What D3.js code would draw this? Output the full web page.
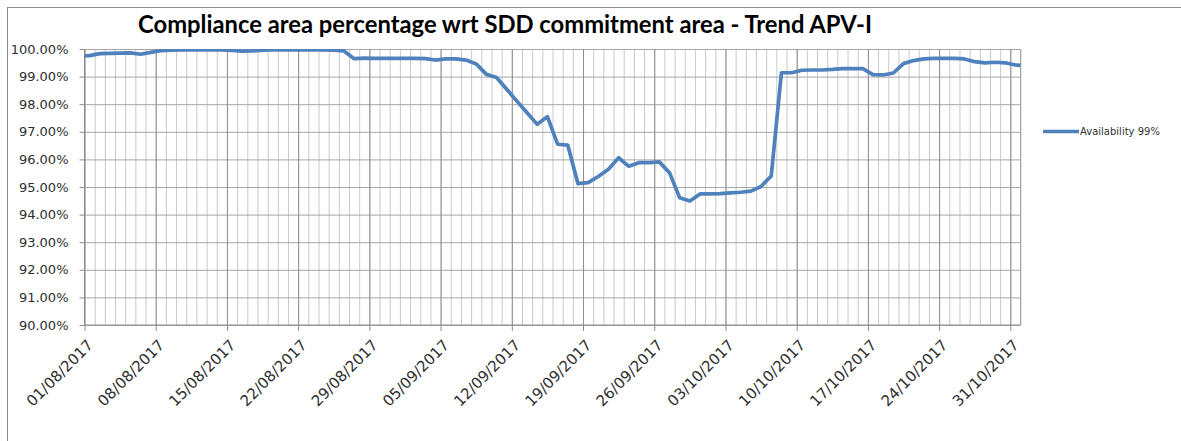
<!DOCTYPE html>
<html>
<head>
<meta charset="utf-8">
<script src="https://cdn.jsdelivr.net/npm/d3@7"></script>
<style>
  html, body { margin: 0; padding: 0; background: #fff; }
  svg { display: block; }
</style>
</head>
<body>
<div id="chart"></div>
<script>
// readings are taken once a day around noon; the axis runs 01/08 -> 01/11
const days = [
  "31/07/2017",
  "01/08/2017", "02/08/2017", "03/08/2017", "04/08/2017", "05/08/2017", "06/08/2017", "07/08/2017",
  "08/08/2017", "09/08/2017", "10/08/2017", "11/08/2017", "12/08/2017", "13/08/2017", "14/08/2017",
  "15/08/2017", "16/08/2017", "17/08/2017", "18/08/2017", "19/08/2017", "20/08/2017", "21/08/2017",
  "22/08/2017", "23/08/2017", "24/08/2017", "25/08/2017", "26/08/2017", "27/08/2017", "28/08/2017",
  "29/08/2017", "30/08/2017", "31/08/2017", "01/09/2017", "02/09/2017", "03/09/2017", "04/09/2017",
  "05/09/2017", "06/09/2017", "07/09/2017", "08/09/2017", "09/09/2017", "10/09/2017", "11/09/2017",
  "12/09/2017", "13/09/2017", "14/09/2017", "15/09/2017", "16/09/2017", "17/09/2017", "18/09/2017",
  "19/09/2017", "20/09/2017", "21/09/2017", "22/09/2017", "23/09/2017", "24/09/2017", "25/09/2017",
  "26/09/2017", "27/09/2017", "28/09/2017", "29/09/2017", "30/09/2017", "01/10/2017", "02/10/2017",
  "03/10/2017", "04/10/2017", "05/10/2017", "06/10/2017", "07/10/2017", "08/10/2017", "09/10/2017",
  "10/10/2017", "11/10/2017", "12/10/2017", "13/10/2017", "14/10/2017", "15/10/2017", "16/10/2017",
  "17/10/2017", "18/10/2017", "19/10/2017", "20/10/2017", "21/10/2017", "22/10/2017", "23/10/2017",
  "24/10/2017", "25/10/2017", "26/10/2017", "27/10/2017", "28/10/2017", "29/10/2017", "30/10/2017",
  "31/10/2017", "01/11/2017"
];

const availability = [
  99.74,
  99.76, 99.83, 99.84, 99.85, 99.86, 99.81, 99.88,
  99.94, 99.96, 99.97, 99.97, 99.97, 99.97, 99.97,
  99.95, 99.92, 99.93, 99.96, 99.97, 99.97, 99.97,
  99.97, 99.97, 99.97, 99.96, 99.93, 99.65, 99.67,
  99.66, 99.66, 99.66, 99.66, 99.66, 99.65, 99.60,
  99.64, 99.64, 99.60, 99.46, 99.08, 98.97, 98.54,
  98.11, 97.69, 97.27, 97.55, 96.55, 96.52, 95.12,
  95.16, 95.38, 95.64, 96.06, 95.75, 95.88, 95.88,
  95.91, 95.52, 94.61, 94.49, 94.75, 94.75, 94.76,
  94.79, 94.81, 94.85, 95.02, 95.40, 99.14, 99.14,
  99.23, 99.24, 99.24, 99.26, 99.29, 99.29, 99.29,
  99.07, 99.06, 99.13, 99.47, 99.58, 99.64, 99.66,
  99.66, 99.66, 99.64, 99.54, 99.50, 99.52, 99.50,
  99.42, 99.40
];

const xTickLabels = [
  "01/08/2017", "08/08/2017", "15/08/2017", "22/08/2017", "29/08/2017", "05/09/2017", "12/09/2017",
  "19/09/2017", "26/09/2017", "03/10/2017", "10/10/2017", "17/10/2017", "24/10/2017", "31/10/2017"
];
const yTicks = [90, 91, 92, 93, 94, 95, 96, 97, 98, 99, 100];
const axisStart = "01/08/2017";
const axisEnd = "01/11/2017";

const title = "Compliance area percentage wrt SDD commitment area - Trend APV-I";
const seriesName = "Availability 99%";

const parseDay = d3.timeParse("%d/%m/%Y");
const parseNoon = d3.timeParse("%d/%m/%Y %H:%M");
const fmtDay = d3.timeFormat("%d/%m/%Y");

const points = days.map((d, i) => ({ date: parseNoon(d + " 12:00"), value: availability[i] }));

const totalW = 1181, totalH = 441;
const margin = { top: 49, left: 84.5 };
const width = 936;
const height = 276;
const lineColor = "#4f81bd";

const svg = d3.select("#chart").append("svg")
  .attr("width", totalW)
  .attr("height", totalH);

// chart area border (only top & left are inside the picture)
svg.append("rect")
  .attr("x", 7.5).attr("y", 7.5)
  .attr("width", 1300).attr("height", 600)
  .attr("fill", "#fff")
  .attr("stroke", "#8c8c8c");

const xScale = d3.scaleTime()
  .domain([parseDay(axisStart), parseDay(axisEnd)])
  .range([0, width]);

const yScale = d3.scaleLinear()
  .domain([90, 100])
  .range([height, 0]);

const g = svg.append("g").attr("transform", `translate(${margin.left}, ${margin.top})`);

// daily minor gridlines
const allDays = d3.timeDay.range(parseDay(axisStart), d3.timeDay.offset(parseDay(axisEnd), 1));
g.append("g")
  .attr("class", "minor-grid")
  .call(d3.axisBottom(xScale).tickValues(allDays).tickSize(height).tickFormat(""))
  .call(s => s.select(".domain").remove())
  .selectAll("line").attr("stroke", "#c9c9c9").attr("stroke-width", 1);

// horizontal gridlines
g.append("g")
  .attr("class", "y-grid")
  .call(d3.axisLeft(yScale).tickValues(yTicks).tickSize(-width).tickFormat(""))
  .call(s => s.select(".domain").remove())
  .selectAll("line").attr("stroke", "#a6a6a6").attr("stroke-width", 1);

// weekly major gridlines
const weekTicks = xTickLabels.map(parseDay);
g.append("g")
  .attr("class", "major-grid")
  .call(d3.axisBottom(xScale).tickValues(weekTicks).tickSize(height).tickFormat(""))
  .call(s => s.select(".domain").remove())
  .selectAll("line").attr("stroke", "#8f8f8f").attr("stroke-width", 1);

// right edge of plot
g.append("line")
  .attr("x1", width).attr("x2", width)
  .attr("y1", 0).attr("y2", height)
  .attr("stroke", "#a6a6a6");

// y axis
const yAxisG = g.append("g")
  .call(d3.axisLeft(yScale).tickValues(yTicks).tickSize(5).tickPadding(11)
    .tickFormat(d => d.toFixed(2) + "%"));
yAxisG.select(".domain").attr("stroke", "#8c8c8c").attr("d", `M0,0V${height}`);
yAxisG.selectAll("line").attr("stroke", "#8c8c8c");
yAxisG.selectAll("text")
  .attr("fill", "#2e2e2e")
  .style("font-family", "'DejaVu Sans', sans-serif")
  .style("font-size", "13px");

// x axis
const xAxisG = g.append("g")
  .attr("transform", `translate(0, ${height})`)
  .call(d3.axisBottom(xScale).tickValues(weekTicks).tickSize(6).tickFormat(fmtDay));
xAxisG.select(".domain").attr("stroke", "#8c8c8c").attr("d", `M0,0H${width}`);
xAxisG.selectAll("line").attr("stroke", "#8c8c8c");
xAxisG.selectAll("text")
  .attr("fill", "#2e2e2e")
  .style("font-family", "'DejaVu Sans', sans-serif")
  .style("font-size", "15px")
  .attr("text-anchor", "end")
  .attr("dy", null)
  .attr("y", 0)
  .attr("transform", "translate(9, 21) rotate(-45)");

// series line
svg.append("clipPath").attr("id", "plotClip")
  .append("rect").attr("width", width).attr("height", height);

const line = d3.line()
  .x(d => xScale(d.date))
  .y(d => yScale(d.value));

g.append("path")
  .datum(points)
  .attr("clip-path", "url(#plotClip)")
  .attr("d", line)
  .attr("fill", "none")
  .attr("stroke", lineColor)
  .attr("stroke-width", 3.7)
  .attr("stroke-linejoin", "round");

// title
const titleText = svg.append("text")
  .attr("x", 505)
  .attr("y", 33)
  .attr("text-anchor", "middle")
  .attr("fill", "#000")
  .style("font-family", "Lato, 'Liberation Sans', sans-serif")
  .style("font-weight", "bold")
  .style("font-size", "21px")
  .text(title);
const tw = titleText.node().getComputedTextLength();
titleText.style("font-size", (21 * 734 / tw).toFixed(2) + "px");

// legend
const legend = svg.append("g").attr("transform", "translate(1043, 131.5)");
legend.append("line")
  .attr("x1", 0).attr("x2", 36)
  .attr("stroke", lineColor)
  .attr("stroke-width", 3.7);
legend.append("text")
  .attr("x", 37)
  .attr("y", 3.5)
  .attr("fill", "#333")
  .style("font-family", "'DejaVu Sans', sans-serif")
  .style("font-size", "10px")
  .text(seriesName);
</script>
</body>
</html>
